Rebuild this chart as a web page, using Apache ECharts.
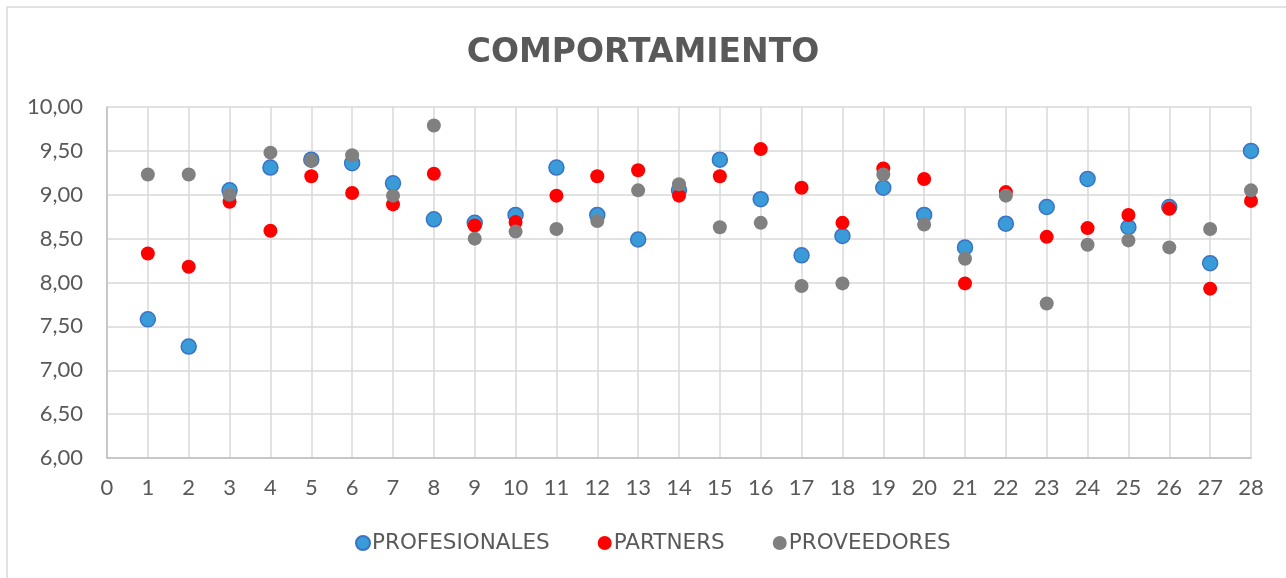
<!DOCTYPE html>
<html>
<head>
<meta charset="utf-8">
<script src="https://cdn.jsdelivr.net/npm/echarts@6/dist/echarts.min.js"></script>
<style>
html, body { margin: 0; padding: 0; background: #fff; }
#main { width: 1286px; height: 578px; }
</style>
</head>
<body>
<div id="main"></div>
<script>
var myChart = echarts.init(document.getElementById('main'));

// x = 1..28
var puntos = [1, 2, 3, 4, 5, 6, 7, 8, 9, 10, 11, 12, 13, 14, 15, 16, 17, 18, 19, 20, 21, 22, 23, 24, 25, 26, 27, 28];
var profesionales = [7.58, 7.27, 9.05, 9.31, 9.40, 9.36, 9.13, 8.72, 8.68, 8.77, 9.31, 8.77, 8.49, 9.05,
    9.40, 8.95, 8.31, 8.53, 9.08, 8.77, 8.40, 8.67, 8.86, 9.18, 8.63, 8.86, 8.22, 9.50];
var partners = [8.33, 8.18, 8.92, 8.59, 9.21, 9.02, 8.89, 9.24, 8.65, 8.69, 8.99, 9.21, 9.28, 8.99,
    9.21, 9.52, 9.08, 8.68, 9.30, 9.18, 7.99, 9.03, 8.52, 8.62, 8.77, 8.84, 7.93, 8.93];
var proveedores = [9.23, 9.23, 9.00, 9.48, 9.39, 9.45, 8.99, 9.79, 8.50, 8.58, 8.61, 8.70, 9.05, 9.12,
    8.63, 8.68, 7.96, 7.99, 9.23, 8.66, 8.27, 8.99, 7.76, 8.43, 8.48, 8.40, 8.61, 9.05];

function pares(vals) {
    var out = [];
    for (var i = 0; i < puntos.length; i++) out.push([puntos[i], vals[i]]);
    return out;
}

var fuente = 'Lato, "Noto Sans", sans-serif';
var fuenteAncha = '"DejaVu Sans", sans-serif';
var gris = '#595959';

option = {
    animation: false,
    title: {
        text: 'COMPORTAMIENTO',
        left: 'center',
        top: 32,
        textStyle: { fontFamily: fuenteAncha, fontSize: 33, fontWeight: 'bold', color: gris }
    },
    graphic: [{
        type: 'rect',
        shape: { x: 7, y: 7, width: 1290, height: 590 },
        style: { fill: 'none', stroke: '#d9d9d9', lineWidth: 1.5 },
        silent: true
    }],
    legend: {
        bottom: 19,
        left: 350,
        itemGap: 48,
        itemWidth: 14,
        itemHeight: 14,
        textStyle: { fontFamily: fuenteAncha, fontSize: 21.5, color: gris, padding: [0, 0, 0, -3] },
        data: [
            { name: 'PROFESIONALES', icon: 'circle' },
            { name: 'PARTNERS', icon: 'circle' },
            { name: 'PROVEEDORES', icon: 'circle' }
        ]
    },
    grid: { left: 107, right: 35, top: 107, bottom: 120 },
    xAxis: {
        type: 'value',
        min: 0,
        max: 28,
        interval: 1,
        axisLine: { show: true, lineStyle: { color: '#bfbfbf', width: 1.5 } },
        axisTick: { show: false },
        axisLabel: { fontFamily: fuente, fontSize: 22, color: gris, margin: 19 },
        splitLine: { show: true, lineStyle: { color: '#d9d9d9', width: 1.5 } }
    },
    yAxis: {
        type: 'value',
        min: 6,
        max: 10,
        interval: 0.5,
        axisLine: { show: true, lineStyle: { color: '#bfbfbf', width: 1.5 } },
        axisTick: { show: false },
        axisLabel: {
            fontFamily: fuente, fontSize: 22, color: gris, margin: 24,
            formatter: function (v) { return v.toFixed(2).replace('.', ','); }
        },
        splitLine: { show: true, lineStyle: { color: '#d9d9d9', width: 1.5 } }
    },
    series: [{
        name: 'PROFESIONALES',
        type: 'scatter',
        symbolSize: 15,
        itemStyle: { color: '#3a9bd9', borderColor: '#3b73c4', borderWidth: 1.5, opacity: 1 },
        data: pares(profesionales)
    }, {
        name: 'PARTNERS',
        type: 'scatter',
        symbolSize: 14,
        itemStyle: { color: '#ff0000', opacity: 1 },
        data: pares(partners)
    }, {
        name: 'PROVEEDORES',
        type: 'scatter',
        symbolSize: 14,
        itemStyle: { color: '#808080', opacity: 1 },
        data: pares(proveedores)
    }]
};

myChart.setOption(option);
</script>
</body>
</html>
